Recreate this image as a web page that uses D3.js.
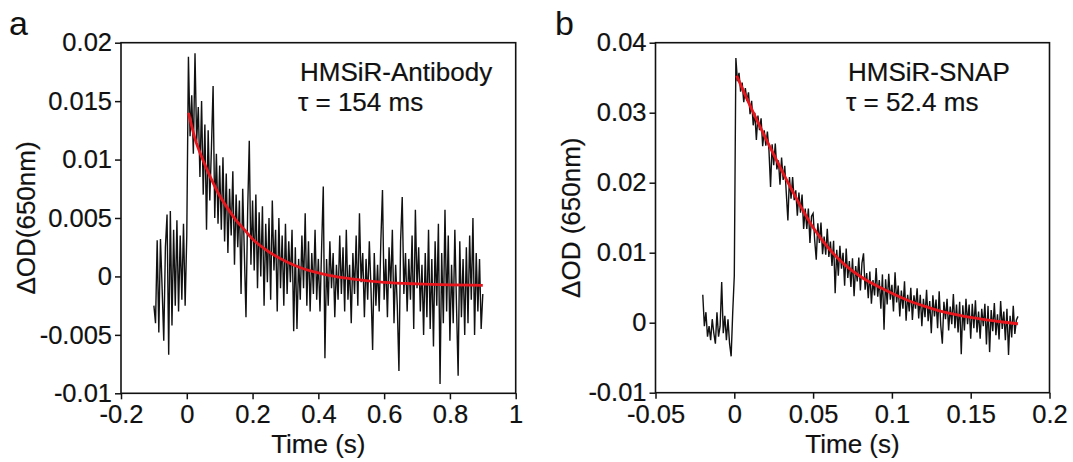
<!DOCTYPE html>
<html><head><meta charset="utf-8">
<script src="https://cdn.jsdelivr.net/npm/d3@7"></script>
<style>
body{margin:0;background:#fff}
svg{display:block;background:#fff}
text{font-family:"Liberation Sans",Arial,Helvetica,sans-serif;fill:#111}
</style>
</head><body>
<svg id="chart" width="1073" height="462"></svg>
<script>
// ---------- Panel a : HMSiR-Antibody (values in ΔOD × 1000) ----------
const aTimeStart = -0.1, aTimeStep = 0.005;
const aSignal = [
  -2.5,-4.0,3.1,-4.8,3.2,-1.0,-5.5,2.5,5.3,-6.7,5.6,-4.2,4.0,-2.5,4.8,-3.0,3.5,-2.0,4.5,-2.5,3.5,
  18.8,12.0,15.5,10.5,19.1,11.5,14.5,8.5,15.0,7.0,13.0,4.0,12.5,6.5,11.0,16.3,5.0,10.5,4.5,9.5,
  4.0,10.2,3.0,8.8,2.0,7.5,3.5,9.0,1.0,7.0,2.5,6.5,-1.5,7.5,2.0,-3.5,5.5,11.6,1.0,6.5,
  0.5,7.0,-1.0,5.5,0.0,6.0,-2.5,4.5,-0.5,5.0,-2.0,6.5,0.5,4.0,-3.0,5.0,-1.0,3.5,-2.5,4.5,
  -1.5,3.0,-0.5,4.0,-4.7,2.5,-4.5,1.5,-2.0,3.5,-1.0,5.4,-2.5,3.0,-3.0,2.0,-1.5,4.0,-2.0,1.5,
  -3.0,2.5,7.7,-7.0,1.5,-2.5,3.0,-1.0,2.0,-3.5,1.0,-2.0,3.5,-1.5,2.5,-3.0,4.0,-2.0,1.0,-4.0,
  2.0,-1.5,3.5,-2.5,5.4,-0.5,2.0,-3.5,1.5,-2.0,3.0,-1.0,-6.3,2.0,-2.5,1.0,-3.0,3.0,7.4,-2.0,
  1.5,-3.5,2.5,-1.0,4.0,-4.0,1.0,-2.5,-8.1,3.0,6.8,-1.5,2.0,-3.0,1.5,-2.0,3.5,-4.5,5.7,-1.0,
  2.5,-3.0,1.0,-5.0,2.0,-3.5,4.0,-4.5,1.5,-6.0,3.0,-2.5,4.5,-9.2,2.0,-4.0,5.7,-3.0,3.5,-5.5,
  1.0,-4.0,4.0,-2.5,-8.5,3.0,-3.5,1.5,-5.0,2.5,-4.0,3.5,-2.0,5.0,-5.0,2.0,-3.0,1.5,-4.5,-1.5
];
const aFitTime  = [0.005,0.025,0.05,0.075,0.1,0.125,0.15,0.175,0.2,0.25,0.3,0.35,0.4,0.45,0.5,0.6,0.7,0.8,0.9];
const aFitValue = [14.0,11.8,9.9,8.3,6.9,5.8,4.8,4.0,3.2,2.1,1.3,0.7,0.3,0.0,-0.2,-0.5,-0.64,-0.72,-0.76];
const aXTicks = [-0.2,0,0.2,0.4,0.6,0.8,1];
const aXTickLabels = ["-0.2","0","0.2","0.4","0.6","0.8","1"];
const aYTicks = [0.02,0.015,0.01,0.005,0,-0.005,-0.01];
const aYTickLabels = ["0.02","0.015","0.01","0.005","0","-0.005","-0.01"];

// ---------- Panel b : HMSiR-SNAP (values in ΔOD × 1000) ----------
const bTimeStart = -0.02, bTimeStep = 0.001;
const bSignal = [
  4.0,-0.5,1.5,-2.0,-0.5,-2.5,0.5,-1.5,-3.0,1.5,-2.0,-0.5,5.8,-1.5,1.0,-2.5,0.5,-3.0,-4.8,1.5,6.7,
  37.8,34.5,35.7,33.0,34.3,31.5,33.5,31.7,32.9,29.8,
  31.7,28.2,30.0,26.1,29.6,27.5,29.2,25.2,27.5,25.3,
  27.3,24.6,19.4,25.5,22.5,25.6,21.9,23.2,19.7,23.6,
  20.4,22.4,18.5,14.6,20.8,17.7,20.8,17.5,18.9,15.3,
  18.6,15.7,18.3,13.4,16.3,13.4,16.3,11.4,15.2,15.6,
  11.8,9.0,14.2,11.4,14.3,9.8,12.3,9.7,13.4,9.4,
  11.6,8.1,11.7,4.2,10.4,6.7,11.0,7.7,10.0,5.3,
  10.6,6.4,8.8,5.1,9.2,3.8,8.1,5.9,9.3,4.6,
  8.5,9.9,4.7,7.1,3.5,7.3,2.7,6.1,3.9,7.8,
  3.7,6.1,2.0,6.9,-1.0,6.2,2.6,7.0,3.3,5.4,
  1.6,7.2,2.9,5.3,0.9,4.6,2.0,5.9,0.3,4.0,
  1.6,5.0,0.4,3.9,2.0,4.9,0.6,4.0,-0.5,3.4,
  0.8,4.7,0.2,3.1,-1.5,3.9,0.9,3.3,-0.8,4.5,
  -0.4,-3.0,3.0,0.5,3.4,-1.1,2.3,-0.2,4.1,-0.8,
  2.6,-1.4,3.0,-4.5,2.5,-1.1,3.4,-0.2,2.6,-2.3,
  2.7,-0.8,3.2,-1.4,1.6,-2.3,2.0,-0.5,2.7,-3.1,
  2.4,-4.2,1.8,-1.2,2.8,-1.8,1.2,-2.4,3.1,-0.9,
  1.6,-2.5,2.0,-4.6,1.0,-2.1,2.4,-1.6,0.4,0.9
];
const bFitTime  = [0.0015,0.01,0.02,0.03,0.04,0.05,0.06,0.07,0.08,0.09,0.1,0.11,0.12,0.13,0.14,0.15,0.16,0.17,0.18];
const bFitValue = [35.3,31.0,26.3,21.8,17.5,13.6,10.6,8.3,6.6,5.3,4.2,3.2,2.4,1.7,1.2,0.75,0.4,0.1,-0.15];
const bXTicks = [-0.05,0,0.05,0.1,0.15,0.2];
const bXTickLabels = ["-0.05","0","0.05","0.1","0.15","0.2"];
const bYTicks = [0.04,0.03,0.02,0.01,0,-0.01];
const bYTickLabels = ["0.04","0.03","0.02","0.01","0","-0.01"];

const svg = d3.select("#chart");
svg.append("rect").attr("width",1073).attr("height",462).attr("fill","#fff");

function drawPanel(cfg){
  const x = d3.scaleLinear().domain(cfg.xDomain).range([cfg.left, cfg.right]);
  const y = d3.scaleLinear().domain(cfg.yDomain).range([cfg.bottom, cfg.top]);
  const g = svg.append("g");

  const xAxis = d3.axisBottom(x).tickValues(cfg.xTicks)
      .tickFormat((d,i)=>cfg.xTickLabels[i]).tickSizeInner(6).tickSizeOuter(0).tickPadding(6);
  const yAxis = d3.axisLeft(y).tickValues(cfg.yTicks)
      .tickFormat((d,i)=>cfg.yTickLabels[i]).tickSizeInner(6).tickSizeOuter(0).tickPadding(3);

  const gx = g.append("g").attr("transform",`translate(0,${cfg.bottom})`).call(xAxis);
  const gy = g.append("g").attr("transform",`translate(${cfg.left},0)`).call(yAxis);
  [gx,gy].forEach(a=>{
    a.select(".domain").remove();
    a.selectAll(".tick line").attr("stroke","#111").attr("stroke-width",1.5);
    a.selectAll(".tick text").attr("font-size",25.5).attr("fill","#111")
      .attr("stroke","#111").attr("stroke-width",0.2)
      .style("font-family",'"Liberation Sans",Arial,sans-serif');
  });

  // data trace
  const times = cfg.signal.map((v,i)=>cfg.timeStart + i*cfg.timeStep);
  const line = d3.line().x((d,i)=>x(times[i])).y(d=>y(d/1000));
  g.append("path").datum(cfg.signal).attr("d",line)
    .attr("fill","none").attr("stroke","#111").attr("stroke-width",1.4)
    .attr("stroke-linejoin","miter");

  // fit
  const fitLine = d3.line().curve(d3.curveMonotoneX)
    .x((d,i)=>x(cfg.fitTime[i])).y(d=>y(d/1000));
  g.append("path").datum(cfg.fitValue).attr("d",fitLine)
    .attr("fill","none").attr("stroke","#e8161c").attr("stroke-width",2.8);

  // frame
  g.append("rect").attr("x",cfg.left).attr("y",cfg.top)
    .attr("width",cfg.right-cfg.left).attr("height",cfg.bottom-cfg.top)
    .attr("fill","none").attr("stroke","#111").attr("stroke-width",1.6);

  // axis titles
  g.append("text").attr("x",(cfg.left+cfg.right)/2).attr("y",453)
    .attr("text-anchor","middle").attr("font-size",26)
    .attr("stroke","#111").attr("stroke-width",0.2).text("Time (s)");
  g.append("text").attr("transform",`translate(${cfg.yTitleX},${(cfg.top+cfg.bottom)/2}) rotate(-90)`)
    .attr("text-anchor","middle").attr("font-size",26)
    .attr("stroke","#111").attr("stroke-width",0.2).text(cfg.yTitle);

  // annotation
  g.append("text").attr("x",cfg.annX).attr("y",81).attr("font-size",26)
    .attr("stroke","#111").attr("stroke-width",0.2).text(cfg.ann1);
  g.append("text").attr("x",cfg.annX-2).attr("y",111).attr("font-size",26)
    .attr("stroke","#111").attr("stroke-width",0.2).text(cfg.ann2);

  // panel letter
  g.append("text").attr("x",cfg.letterX).attr("y",35).attr("font-size",34).text(cfg.letter);
}

drawPanel({
  left:121, right:515.7, top:42.7, bottom:393.3,
  xDomain:[-0.2,1], yDomain:[-0.01,0.02],
  xTicks:aXTicks, xTickLabels:aXTickLabels, yTicks:aYTicks, yTickLabels:aYTickLabels,
  signal:aSignal, timeStart:aTimeStart, timeStep:aTimeStep,
  fitTime:aFitTime, fitValue:aFitValue,
  yTitle:"\u0394OD(650nm)", yTitleX:35,
  ann1:"HMSiR-Antibody", ann2:"\u03c4 = 154 ms", annX:300,
  letter:"a", letterX:9
});
drawPanel({
  left:655.5, right:1049.5, top:42.7, bottom:392.7,
  xDomain:[-0.05,0.2], yDomain:[-0.01,0.04],
  xTicks:bXTicks, xTickLabels:bXTickLabels, yTicks:bYTicks, yTickLabels:bYTickLabels,
  signal:bSignal, timeStart:bTimeStart, timeStep:bTimeStep,
  fitTime:bFitTime, fitValue:bFitValue,
  yTitle:"\u0394OD (650nm)", yTitleX:580,
  ann1:"HMSiR-SNAP", ann2:"\u03c4 = 52.4 ms", annX:848,
  letter:"b", letterX:555
});
</script>
</body></html>
